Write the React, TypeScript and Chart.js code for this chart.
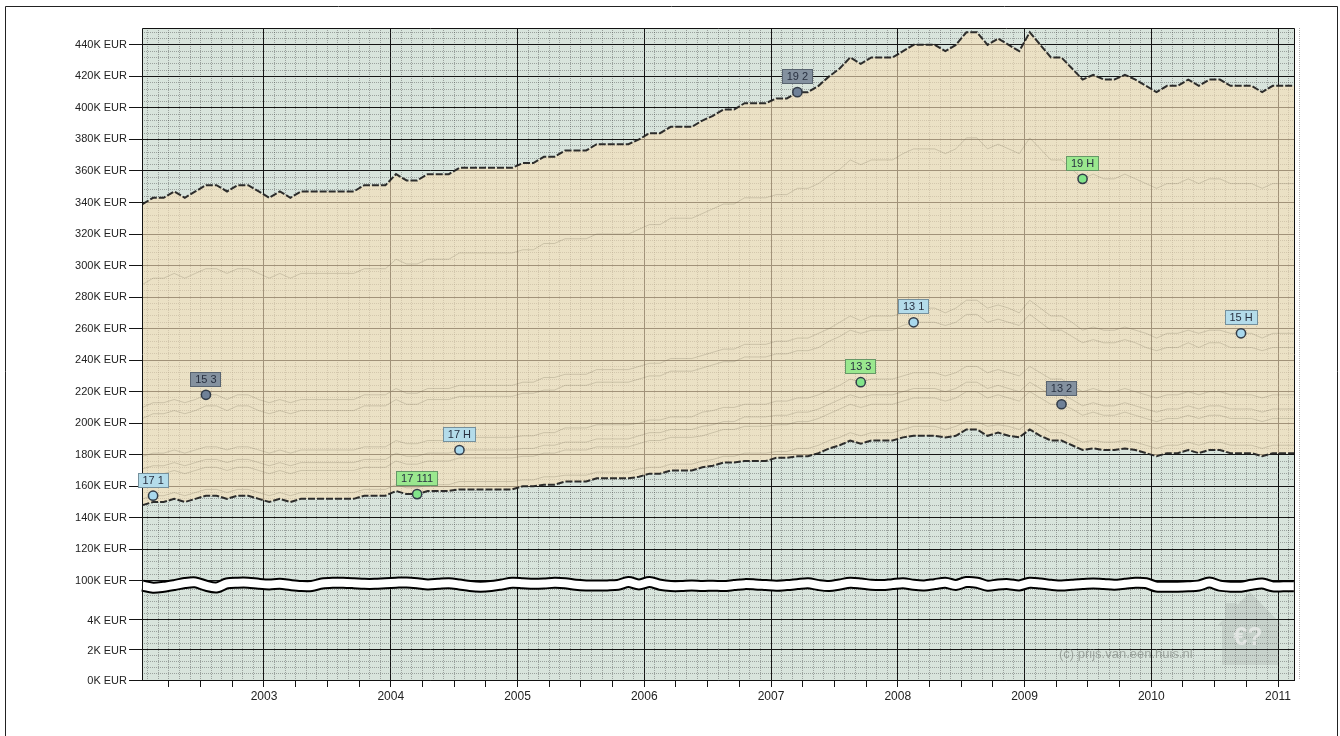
import React, { useEffect, useRef } from "react";
import { Chart, registerables } from "chart.js";

Chart.register(...registerables);

const FONT = "'Liberation Sans', Arial, sans-serif";

const upperSeries = [
  339,343,343,347,343,347,351,351,347,351,351,347,
  343,347,343,347,347,347,347,347,347,351,351,351,
  358,354,354,358,358,358,362,362,362,362,362,362,
  365,365,369,369,373,373,373,377,377,377,377,380,
  384,384,388,388,388,392,395,399,399,403,403,403,
  406,406,410,410,414,420,425,432,428,432,432,432,
  436,440,440,440,436,440,448,448,440,444,440,436,
  448,440,432,432,425,418,421,418,418,421,418,414,
  410,414,414,418,414,418,418,414,414,414,410,414,
  414,414,414,
];
const series19H = [
  288,292,292,295,292,295,298,298,295,298,298,295,
  292,295,292,295,295,295,295,295,295,298,298,298,
  304,301,301,304,304,304,308,308,308,308,308,308,
  310,310,314,314,317,317,317,320,320,320,320,323,
  326,326,330,330,330,333,336,339,339,343,343,343,
  345,345,349,349,352,357,361,367,364,367,367,367,
  371,374,374,374,371,374,381,381,374,377,374,371,
  381,374,367,367,361,355,358,355,355,358,355,352,
  349,352,352,355,352,355,355,352,352,352,349,352,
  352,352,352,
];
const series15 = [
  210,213,213,215,213,215,218,218,215,218,218,215,
  213,215,213,215,215,215,215,215,215,218,218,218,
  222,219,219,222,222,222,224,224,224,224,224,224,
  226,226,229,229,231,231,231,234,234,234,234,236,
  238,238,241,241,241,243,245,247,247,250,250,250,
  252,252,254,254,257,260,264,268,265,268,268,268,
  270,273,273,273,270,273,278,278,273,275,273,270,
  278,273,268,268,264,259,261,259,259,261,259,257,
  254,257,257,259,257,259,259,257,257,257,254,257,
  257,257,257,
];
const series131 = [
  203,206,206,208,206,208,211,211,208,211,211,208,
  206,208,206,208,208,208,208,208,208,211,211,211,
  215,212,212,215,215,215,217,217,217,217,217,217,
  219,219,221,221,224,224,224,226,226,226,226,228,
  230,230,233,233,233,235,237,239,239,242,242,242,
  244,244,246,246,248,252,255,259,257,259,259,259,
  262,264,264,264,262,264,269,269,264,266,264,262,
  269,264,259,259,255,251,253,251,251,253,251,248,
  246,248,248,251,248,251,251,248,248,248,246,248,
  248,248,248,
];
const series133 = [
  179,181,181,183,181,183,185,185,183,185,185,183,
  181,183,181,183,183,183,183,183,183,185,185,185,
  189,187,187,189,189,189,191,191,191,191,191,191,
  192,192,194,194,197,197,197,199,199,199,199,200,
  202,202,204,204,204,207,208,210,210,212,212,212,
  214,214,216,216,218,221,224,228,226,228,228,228,
  230,232,232,232,230,232,236,236,232,234,232,230,
  236,232,228,228,224,220,222,220,220,222,220,218,
  216,218,218,220,218,220,220,218,218,218,216,218,
  218,218,218,
];
const series17H = [
  171,173,173,175,173,175,177,177,175,177,177,175,
  173,175,173,175,175,175,175,175,175,177,177,177,
  181,179,179,181,181,181,183,183,183,183,183,183,
  184,184,186,186,188,188,188,190,190,190,190,192,
  194,194,196,196,196,198,199,201,201,204,204,204,
  205,205,207,207,209,212,215,218,216,218,218,218,
  220,222,222,222,220,222,226,226,222,224,222,220,
  226,222,218,218,215,211,213,211,211,213,211,209,
  207,209,209,211,209,211,211,209,209,209,207,209,
  209,209,209,
];
const series132 = [
  166,168,168,170,168,170,172,172,170,172,172,170,
  168,170,168,170,170,170,170,170,170,172,172,172,
  176,174,174,176,176,176,178,178,178,178,178,178,
  179,179,181,181,183,183,183,185,185,185,185,187,
  189,189,191,191,191,192,194,196,196,198,198,198,
  199,199,201,201,203,206,209,212,210,212,212,212,
  214,216,216,216,214,216,220,220,216,218,216,214,
  220,216,212,212,209,205,207,205,205,207,205,203,
  201,203,203,205,203,205,205,203,203,203,201,203,
  203,203,203,
];
const series171 = [
  152,154,154,156,154,156,158,158,156,158,158,156,
  154,156,154,156,156,156,156,156,156,158,158,158,
  161,159,159,161,161,161,163,163,163,163,163,163,
  164,164,166,166,167,167,167,169,169,169,169,171,
  172,172,174,174,174,176,177,179,179,181,181,181,
  182,182,184,184,186,189,191,194,192,194,194,194,
  196,198,198,198,196,198,201,201,198,199,198,196,
  201,198,194,194,191,188,189,188,188,189,188,186,
  184,186,186,188,186,188,188,186,186,186,184,186,
  186,186,186,
];
const lowerSeries = [
  148,150,150,152,150,152,154,154,152,154,154,152,
  150,152,150,152,152,152,152,152,152,154,154,154,
  157,155,155,157,157,157,158,158,158,158,158,158,
  160,160,161,161,163,163,163,165,165,165,165,166,
  168,168,170,170,170,172,173,175,175,176,176,176,
  178,178,179,179,181,184,186,189,187,189,189,189,
  191,192,192,192,191,192,196,196,192,194,192,191,
  196,192,189,189,186,183,184,183,183,184,183,181,
  179,181,181,183,181,183,183,181,181,181,179,181,
  181,181,181,
];
const axisBreak = [
  96.9,95.6,96.2,97.3,98.6,99.0,96.9,95.8,98.4,98.8,98.8,98.1,
  97.7,98.1,97.3,96.7,96.7,98.3,98.8,98.8,98.5,98.1,98.1,98.5,
  98.8,99.0,98.5,97.7,98.1,98.5,97.7,96.7,96.3,96.7,97.7,98.8,
  98.5,98.1,98.3,98.8,98.5,97.5,97.1,97.1,97.1,97.4,99.2,97.7,
  99.2,97.5,96.7,96.7,97.1,96.7,96.9,96.7,97.3,97.9,97.7,97.3,
  96.9,97.3,97.9,98.5,97.3,96.7,97.7,98.8,98.3,97.5,97.3,97.9,
  98.5,97.5,97.1,97.9,98.8,97.4,99.2,98.8,96.9,97.7,97.9,97.1,
  98.8,98.3,97.5,97.0,97.5,98.0,98.3,98.0,97.5,98.1,98.8,98.5,
  96.3,96.3,96.3,96.5,97.0,98.9,96.9,96.3,96.3,97.5,98.3,96.5,
  96.5,96.5,
];
const markerLabels = ["17 1","15 3","17 111","17 H","19 2","13 3","13 1","13 2","19 H","15 H"];
const markerYears = [2002.125,2002.542,2004.208,2004.542,2007.208,2007.708,2008.125,2009.292,2009.458,2010.708];
const markerValues = [154,218,155,183,410,226,264,212,355,257];
const markerKinds = ["blue","dark","green","blue","dark","green","blue","dark","green","blue"];

const kindFill: Record<string,string> = { blue: "#a9d9ee", dark: "#6f8198", green: "#82e58a" };
const kindBox: Record<string,string> = { blue: "#b4dcea", dark: "#84919f", green: "#9ae88e" };

const FIRST_YEAR = 2002;
const monthYears = upperSeries.map((_, i) => FIRST_YEAR + (i + 0.5) / 12);
const toPoints = (arr: number[]) => arr.map((y, i) => ({ x: monthYears[i], y }));

const yearsOnAxis = [2003,2004,2005,2006,2007,2008,2009,2010,2011];
const upperMajor = [100,120,140,160,180,200,220,240,260,280,300,320,340,360,380,400,420,440];
const lowerMajor = [0,2,4];

const GREEN_BG = "#d8e4dc";
const BAND = "rgba(247,222,182,0.62)";
const MAJOR = "#151515";
const MINOR = "rgba(70,70,70,0.42)";
const THIN = "rgba(105,95,75,0.24)";
const DASHED = "rgba(35,35,35,0.95)";

const frame = {
  id: "frame",
  beforeDraw(chart: any) {
    const { ctx, chartArea: a } = chart;
    ctx.save();
    ctx.fillStyle = GREEN_BG;
    ctx.fillRect(a.left, a.top, a.right - a.left, a.bottom - a.top);
    ctx.restore();
  },
  afterDraw(chart: any) {
    const { ctx, chartArea: a, scales } = chart;
    ctx.save();
    // page frame
    ctx.strokeStyle = "#222";
    ctx.lineWidth = 1;
    ctx.beginPath();
    ctx.moveTo(5.5, 736); ctx.lineTo(5.5, 6.5); ctx.lineTo(1337.5, 6.5); ctx.lineTo(1337.5, 736);
    ctx.stroke();
    // plot frame
    ctx.strokeStyle = "#111";
    ctx.beginPath();
    ctx.moveTo(a.left + 0.5, a.bottom + 0.5);
    ctx.lineTo(a.left + 0.5, a.top + 0.5);
    ctx.lineTo(a.right - 0.5, a.top + 0.5);
    ctx.lineTo(a.right - 0.5, a.bottom + 0.5);
    ctx.lineTo(a.left + 0.5, a.bottom + 0.5);
    ctx.stroke();

    // watermark
    ctx.fillStyle = "rgba(120,125,120,0.17)";
    ctx.beginPath();
    ctx.moveTo(1250, 592); ctx.lineTo(1283, 626); ctx.lineTo(1278, 626); ctx.lineTo(1278, 665);
    ctx.lineTo(1222, 665); ctx.lineTo(1222, 626); ctx.lineTo(1217, 626); ctx.lineTo(1225, 618);
    ctx.lineTo(1225, 603); ctx.lineTo(1237, 603); ctx.lineTo(1237, 605);
    ctx.closePath();
    ctx.fill();
    ctx.fillStyle = "rgba(240,240,238,0.7)";
    ctx.font = `bold 25px ${FONT}`;
    ctx.textAlign = "center";
    ctx.textBaseline = "middle";
    ctx.fillText("€?", 1248, 638);
    ctx.fillStyle = "rgba(110,115,110,0.55)";
    ctx.font = `13px ${FONT}`;
    ctx.textAlign = "left";
    ctx.fillText("(c) prijs.van.een.huis.nl", 1059, 654);

    // marker labels
    ctx.font = `11px ${FONT}`;
    ctx.textAlign = "center";
    ctx.textBaseline = "middle";
    markerLabels.forEach((t, i) => {
      const px = scales.x.getPixelForValue(markerYears[i]);
      const py = scales.y.getPixelForValue(markerValues[i]);
      const w = Math.round(ctx.measureText(t).width + 10);
      const l = Math.round(px - w / 2);
      const top = Math.round(py - 23);
      ctx.fillStyle = kindBox[markerKinds[i]];
      ctx.fillRect(l, top, w, 15);
      ctx.strokeStyle = "rgba(30,40,50,0.85)";
      ctx.setLineDash([1, 1]);
      ctx.strokeRect(l + 0.5, top + 0.5, w - 1, 14);
      ctx.setLineDash([]);
      ctx.fillStyle = "#283040";
      ctx.fillText(t, px, top + 8);
    });
    ctx.restore();
  },
};

const thin = (data: number[]) => ({
  data: toPoints(data), yAxisID: "y", borderColor: THIN, borderWidth: 1, pointRadius: 0, fill: false, tension: 0,
});
const boundary = (data: number[]) => ({
  data: toPoints(data), yAxisID: "y", borderColor: DASHED, borderWidth: 2, borderDash: [7, 2], pointRadius: 0, fill: false, tension: 0,
});

export default function App() {
  const ref = useRef<HTMLCanvasElement>(null);
  useEffect(() => {
    const datasets: any[] = [
      {
        data: markerYears.map((x, i) => ({ x, y: markerValues[i] })),
        yAxisID: "y", showLine: false, pointRadius: 4.6,
        pointBackgroundColor: markerKinds.map((k) => kindFill[k]),
        pointBorderColor: "#323c48", pointBorderWidth: 1.5, clip: false,
      },
      { data: toPoints(axisBreak), yAxisID: "y", borderColor: "#fff", borderWidth: 8, pointRadius: 0, tension: 0.3, clip: false, fill: false },
      { data: toPoints(axisBreak), yAxisID: "y", borderColor: "#000", borderWidth: 12, pointRadius: 0, tension: 0.3, clip: false, fill: false },
      boundary(upperSeries),
      boundary(lowerSeries),
      thin(series19H), thin(series15), thin(series131), thin(series133), thin(series17H), thin(series132), thin(series171),
    ];
    const lowerIndex = 4;
    datasets.push({
      data: toPoints(upperSeries), yAxisID: "y", borderWidth: 0, pointRadius: 0,
      backgroundColor: BAND, fill: lowerIndex, tension: 0,
    });
    // keeps the lower axis in the layout
    datasets.push({ data: [], yAxisID: "yLow" });

    const isMajorY = (list: number[], v: number) => list.some((m) => Math.abs(m - v) < 1e-6);
    const yCommon = (list: number[], labelOffset: number) => ({
      type: "linear", position: "left", stack: "value",
      grid: {
        color: (c: any) => (isMajorY(list, c.tick?.value) ? MAJOR : MINOR),
        tickColor: (c: any) => (isMajorY(list, c.tick?.value) ? MAJOR : "rgba(0,0,0,0)"),
        tickLength: 13, lineWidth: 1, drawOnChartArea: true,
      },
      border: {
        display: false,
        dash: (c: any) => (isMajorY(list, c.tick?.value) ? [] : [1, 1]),
      },
      ticks: {
        autoSkip: false, padding: 2, color: "#222", labelOffset, font: { family: FONT, size: 11 },
        callback: (v: number) => (isMajorY(list, v) ? `${Math.round(v)}K EUR` : ""),
      },
      afterFit: (s: any) => { s.width = 142; },
    });

    const chart = new Chart(ref.current!, {
      type: "line",
      data: { datasets },
      plugins: [frame],
      options: {
        animation: false, responsive: false, devicePixelRatio: 1, parsing: true as any,
        layout: { padding: { left: 0, top: 28, right: 45, bottom: 0 } },
        plugins: { legend: { display: false }, tooltip: { enabled: false } },
        scales: {
          x: {
            type: "linear", min: 2002.0375, max: 2011.134,
            afterBuildTicks: (s: any) => {
              const t: any[] = [];
              for (let m = 1; m <= 110; m++) t.push({ value: FIRST_YEAR + m / 12 });
              s.ticks = t;
            },
            afterFit: (s: any) => { s.height = 56; },
            grid: {
              color: (c: any) => (isYear(c.tick?.value) ? MAJOR : MINOR),
              tickColor: (c: any) => (isQuarter(c.tick?.value) ? MAJOR : "rgba(0,0,0,0)"),
              tickLength: 7,
            },
            border: { display: false, dash: (c: any) => (isYear(c.tick?.value) ? [] : [1, 1]) },
            ticks: {
              autoSkip: false, maxRotation: 0, padding: 2, color: "#222", font: { family: FONT, size: 12 },
              callback: (v: number) => {
                const y = Math.round(v);
                return isYear(v) && yearsOnAxis.includes(y) ? String(y) : "";
              },
            },
          },
          yLow: {
            ...yCommon(lowerMajor, 1), stackWeight: 95, min: 0, max: 6.33,
            afterBuildTicks: (s: any) => {
              const t: any[] = [];
              for (let i = 0; i <= 15; i++) t.push({ value: Math.round(i * 4) / 10 });
              s.ticks = t;
            },
          },
          y: {
            ...yCommon(upperMajor, 0), stackWeight: 557, min: 97.35, max: 450.7,
            afterBuildTicks: (s: any) => {
              const t: any[] = [];
              for (let v = 100; v <= 448; v += 4) t.push({ value: v });
              s.ticks = t;
            },
          },
        },
      } as any,
    } as any);
    return () => chart.destroy();
  }, []);
  return <canvas ref={ref} width={1340} height={736} style={{ position: "fixed", left: 0, top: 0, display: "block", background: "#fff" }} />;
}

function monthIndex(v: number) { return Math.round((v - FIRST_YEAR) * 12); }
function isYear(v: number) { return monthIndex(v) % 12 === 0; }
function isQuarter(v: number) { return monthIndex(v) % 3 === 0; }
